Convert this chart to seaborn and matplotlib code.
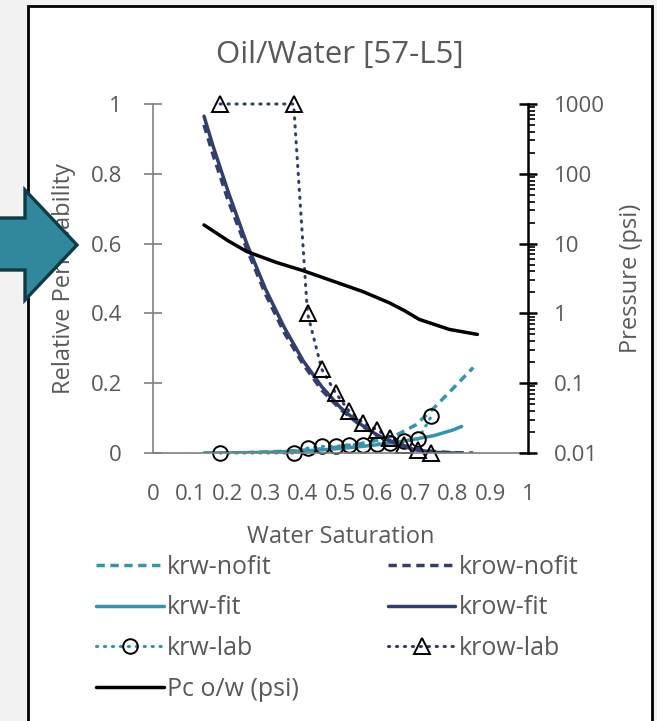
import numpy as np
import pandas as pd
import matplotlib
matplotlib.use("Agg")
import matplotlib.pyplot as plt
from matplotlib.patches import Polygon, Rectangle
import seaborn as sns

sns.set_style("white")
plt.rcParams['font.family'] = ['Open Sans', 'DejaVu Sans']

# ---------------- data ----------------
title = "Oil/Water [57-L5]"
x_ticks = [0, 0.1, 0.2, 0.3, 0.4, 0.5, 0.6, 0.7, 0.8, 0.9, 1.0]
x_tick_labels = ["0", "0.1", "0.2", "0.3", "0.4", "0.5", "0.6", "0.7", "0.8", "0.9", "1"]
y_ticks = [0, 0.2, 0.4, 0.6, 0.8, 1.0]
y_tick_labels = ["0", "0.2", "0.4", "0.6", "0.8", "1"]
y2_ticks = [0.01, 0.1, 1, 10, 100, 1000]
y2_tick_labels = ["0.01", "0.1", "1", "10", "100", "1000"]

sw_nofit = [0.136, 0.16, 0.2, 0.25, 0.3, 0.35, 0.4, 0.45, 0.5, 0.55, 0.6, 0.65, 0.7, 0.75, 0.8, 0.854]
krw_nofit = [0.0, 0.0002, 0.0005, 0.001, 0.003, 0.005, 0.008, 0.012, 0.018, 0.026, 0.037, 0.052, 0.08, 0.13, 0.185, 0.245]
krow_nofit = [0.94, 0.855, 0.725, 0.585, 0.455, 0.345, 0.255, 0.18, 0.125, 0.082, 0.05, 0.027, 0.012, 0.004, 0.001, 0.0]

sw_fit = [0.136, 0.16, 0.2, 0.25, 0.3, 0.35, 0.4, 0.45, 0.5, 0.55, 0.6, 0.65, 0.7, 0.75, 0.8, 0.823]
krw_fit = [0.0, 0.0001, 0.0004, 0.001, 0.002, 0.004, 0.006, 0.009, 0.013, 0.018, 0.024, 0.031, 0.04, 0.05, 0.066, 0.076]
krow_fit = [0.965, 0.88, 0.75, 0.60, 0.47, 0.36, 0.265, 0.19, 0.13, 0.085, 0.05, 0.025, 0.009, 0.002, 0.0, 0.0]

sw_lab = [0.179, 0.375, 0.412, 0.45, 0.487, 0.523, 0.56, 0.596, 0.633, 0.669, 0.707, 0.742]
krw_lab = [0.0, 0.0, 0.014, 0.019, 0.019, 0.024, 0.024, 0.026, 0.029, 0.033, 0.04, 0.105]
krow_lab = [1.0, 1.0, 0.40, 0.24, 0.172, 0.12, 0.086, 0.067, 0.043, 0.024, 0.01, 0.0]

sw_pc = [0.136, 0.2, 0.25, 0.33, 0.4, 0.48, 0.56, 0.63, 0.67, 0.71, 0.79, 0.865]
pc = [18.5, 11.0, 7.7, 5.35, 4.1, 2.9, 2.05, 1.42, 1.1, 0.82, 0.59, 0.5]

TEAL = "#3794a8"
NAVY = "#323f6d"
GRAY = "#595959"
AXG = "#7f7f7f"

W, H = 657, 721
fig = plt.figure(figsize=(W / 100, H / 100), dpi=100)
fig.patch.set_facecolor("#f2f2f2")

def fx(px):
    return px / W

def fy(py):
    return 1 - py / H

# chart frame
fig.patches.append(Rectangle((fx(28), fy(740)), fx(652) - fx(28), fy(6) - fy(740),
                             transform=fig.transFigure, facecolor="white",
                             edgecolor="black", lw=2.0, zorder=-5))

ax = fig.add_axes([fx(153), fy(453), fx(528) - fx(153), fy(104) - fy(453)])
ax.set_facecolor("none")

lw_main = 2.5
dot_style = (0, (0.4, 2.2))
sns.lineplot(x=sw_nofit, y=krw_nofit, ax=ax, color=TEAL, lw=lw_main, sort=False,
             linestyle=(0, (2.4, 1.6)), label="krw-nofit")
sns.lineplot(x=sw_fit, y=krw_fit, ax=ax, color=TEAL, lw=lw_main, sort=False,
             label="krw-fit")
sns.lineplot(x=sw_lab, y=krw_lab, ax=ax, color=TEAL, lw=2.2, sort=False,
             linestyle=dot_style, dash_capstyle="round",
             marker="o", ms=10.5, mfc="none", mec="black", mew=1.4,
             label="krw-lab", clip_on=False)
sns.lineplot(x=sw_nofit, y=krow_nofit, ax=ax, color=NAVY, lw=lw_main, sort=False,
             linestyle=(0, (2.4, 1.6)), label="krow-nofit")
sns.lineplot(x=sw_fit, y=krow_fit, ax=ax, color=NAVY, lw=lw_main, sort=False,
             label="krow-fit")
sns.lineplot(x=sw_lab, y=krow_lab, ax=ax, color=NAVY, lw=2.2, sort=False,
             linestyle=dot_style, dash_capstyle="round",
             marker="^", ms=11, mfc="none", mec="black", mew=1.4,
             label="krow-lab", clip_on=False)

ax.set_xlim(0, 1)
ax.set_ylim(0, 1)
ax.set_xticks(x_ticks)
ax.set_xticklabels(x_tick_labels)
ax.set_yticks(y_ticks)
ax.set_yticklabels(y_tick_labels)
for s in ["top", "right"]:
    ax.spines[s].set_visible(False)
for s in ["left", "bottom"]:
    ax.spines[s].set_color(AXG)
    ax.spines[s].set_linewidth(1.2)
ax.tick_params(axis="both", direction="inout", length=13, width=1.2, color=AXG,
               labelcolor=GRAY, labelsize=16)
ax.tick_params(axis="x", pad=16)
ax.tick_params(axis="y", pad=16)
ax.set_xlabel("Water Saturation", fontsize=17, color=GRAY, labelpad=14)
ax.set_ylabel("Relative Permeability", fontsize=17, color=GRAY, labelpad=10)
ax.grid(False)

ax2 = ax.twinx()
ax2.set_facecolor("none")
sns.lineplot(x=sw_pc, y=pc, ax=ax2, color="black", lw=lw_main, sort=False,
             label="Pc o/w (psi)")
ax2.set_yscale("log")
ax2.set_ylim(0.01, 1000)
ax2.set_yticks(y2_ticks)
ax2.set_yticklabels(y2_tick_labels)
for s in ["top", "left", "bottom"]:
    ax2.spines[s].set_visible(False)
ax2.spines["right"].set_color("black")
ax2.spines["right"].set_linewidth(1.8)
ax2.tick_params(axis="y", which="major", direction="inout", length=13, width=1.8,
                color="black", labelcolor=GRAY, labelsize=16, pad=12)
ax2.tick_params(axis="y", which="minor", direction="out", length=5, width=1.2,
                color="black")
ax2.set_ylabel("Pressure (psi)", fontsize=17, color=GRAY, labelpad=10)
ax2.grid(False)

fig.text(fx(340), fy(55), title, ha="center", va="center", fontsize=22.5, color=GRAY)

# legend
h1, l1 = ax.get_legend_handles_labels()
h2, l2 = ax2.get_legend_handles_labels()
for a in (ax, ax2):
    if a.get_legend() is not None:
        a.get_legend().remove()
hd = dict(zip(l1 + l2, h1 + h2))
order = ["krw-nofit", "krw-fit", "krw-lab", "Pc o/w (psi)",
         "krow-nofit", "krow-fit", "krow-lab"]
leg = fig.legend([hd[k] for k in order], order, ncol=2, loc="upper left",
                 bbox_to_anchor=(fx(96), fy(555)), frameon=False, fontsize=18,
                 handlelength=2.7, handletextpad=0.15, labelspacing=0.62,
                 columnspacing=3.55, borderaxespad=0, borderpad=0)
for t in leg.get_texts():
    t.set_color(GRAY)

# decorative arrow on the left
arrow_pts = [(-6, 218), (25, 218), (25, 190), (77, 245), (25, 300), (25, 270), (-6, 270)]
fig.patches.append(Polygon([(fx(px), fy(py)) for px, py in arrow_pts], closed=True,
                           transform=fig.transFigure, facecolor="#31879b",
                           edgecolor="#0f3b47", lw=2.4, joinstyle="miter", zorder=10))

fig.savefig("out.png", dpi=100, facecolor=fig.get_facecolor())
